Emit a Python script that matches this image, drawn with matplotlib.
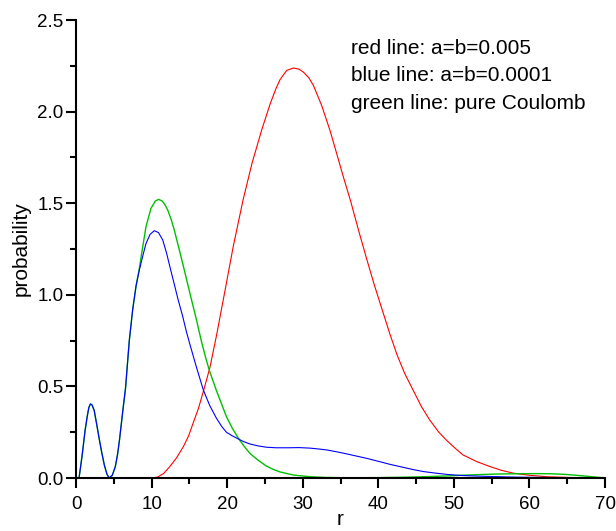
import numpy as np
import matplotlib.pyplot as plt
from matplotlib.ticker import MultipleLocator, FormatStrFormatter

plt.rcParams['font.family'] = ['Liberation Sans', 'DejaVu Sans']

# red line: a=b=0.005
r_red = [0, 10, 10.8, 11.6, 12.4, 13.3, 14.2, 14.9, 15.5, 16.2, 16.9, 17.7, 18.6, 19.7,
         20.8, 22.1, 23.3, 24.57, 25.67, 26.4, 27.0, 27.88, 28.76, 29.5, 30.08, 30.8,
         31.4, 32.5, 33.6, 34.5, 35.4, 36.3, 37.4, 38.5, 39.5, 40.5, 41.5, 42.5, 43.5,
         44.6, 45.7, 46.8, 48.0, 49.0, 50.1, 51.2, 53.0, 54.8, 56.3, 57.9, 60.0, 62.3,
         66.0, 70.0]
p_red = [0, 0, 0.005, 0.025, 0.062, 0.11, 0.171, 0.23, 0.30, 0.38, 0.48, 0.60, 0.78, 1.02,
         1.263, 1.517, 1.72, 1.90, 2.04, 2.12, 2.175, 2.225, 2.238, 2.232, 2.216, 2.185,
         2.144, 2.034, 1.898, 1.77, 1.64, 1.517, 1.35, 1.19, 1.05, 0.92, 0.79, 0.67, 0.57,
         0.48, 0.39, 0.317, 0.25, 0.207, 0.165, 0.126, 0.09, 0.062, 0.042, 0.026, 0.015,
         0.007, 0.002, 0]

# blue line: a=b=0.0001
r_blue = [0.4, 0.8, 1.2, 1.5, 1.7, 1.9, 2.1, 2.4, 2.75, 3.1, 3.4, 3.75, 4.1, 4.4, 4.8, 5.2,
          5.5, 5.75, 6.2, 6.55, 7.05, 7.5, 7.95, 8.38, 8.82, 9.26, 9.8, 10.36, 10.9, 11.47,
          12.0, 12.35, 12.9, 13.5, 14.1, 14.6, 15.1, 15.9, 16.85, 17.7, 18.6, 19.3,
          19.9, 20.6, 21.3, 22.1, 23.0, 24.0, 25.2, 26.5, 28.0, 29.5, 31.0, 32.2, 33.2,
          34.5, 36.0, 37.3, 38.5, 40.2, 41.5, 42.9, 44.6, 46.0, 47.5, 49.0, 50.5, 52.0,
          55.0, 58.0, 62.0, 66.0, 70.0]
p_blue = [0, 0.12, 0.26, 0.34, 0.385, 0.404, 0.40, 0.37, 0.29, 0.207, 0.14, 0.07, 0.02, 0.0,
          0.015, 0.062, 0.13, 0.207, 0.37, 0.49, 0.75, 0.92, 1.05, 1.135, 1.21, 1.28, 1.33,
          1.35, 1.34, 1.30, 1.225, 1.165, 1.075, 0.975, 0.885, 0.80, 0.725, 0.61,
          0.48, 0.395, 0.325, 0.28, 0.25, 0.232, 0.217, 0.20, 0.186, 0.176, 0.168, 0.165,
          0.165, 0.166, 0.163, 0.158, 0.153, 0.143, 0.13, 0.118, 0.107, 0.089, 0.075, 0.062,
          0.046, 0.035, 0.027, 0.02, 0.015, 0.012, 0.008, 0.005, 0.003, 0.001, 0]

# green line: pure Coulomb
r_green = [0.4, 0.8, 1.2, 1.5, 1.7, 1.9, 2.1, 2.4, 2.75, 3.1, 3.4, 3.75, 4.1, 4.4, 4.8, 5.2,
           5.5, 5.75, 6.2, 6.55, 7.05, 7.5, 7.95, 8.38, 8.82, 9.26, 9.92, 10.5, 10.94,
           11.4, 11.8, 12.13, 12.6, 13.0, 13.67, 14.33, 14.65, 15.3, 15.9, 16.6, 17.2, 17.7,
           18.6, 19.3, 19.9, 20.7, 21.6, 22.3, 23.0, 24.0, 25.2, 26.1, 27.0, 28.8, 31.0,
           33.0, 36.0, 40.0, 43.0, 46.0, 49.0, 51.0, 53.5, 56.0, 58.0, 61.0, 63.0, 65.0,
           67.0, 68.5, 70.0]
p_green = [0, 0.12, 0.26, 0.34, 0.385, 0.404, 0.40, 0.37, 0.29, 0.207, 0.14, 0.07, 0.02, 0.0,
           0.015, 0.062, 0.13, 0.207, 0.37, 0.49, 0.75, 0.92, 1.05, 1.145, 1.26, 1.372,
           1.472, 1.512, 1.521, 1.512, 1.49, 1.463, 1.41, 1.354, 1.245, 1.135, 1.08, 0.97,
           0.87, 0.745, 0.65, 0.58, 0.475, 0.40, 0.335, 0.27, 0.21, 0.17, 0.135, 0.10, 0.065,
           0.047, 0.033, 0.016, 0.007, 0.003, 0.001, 0.002, 0.004, 0.007, 0.011, 0.015,
           0.019, 0.022, 0.023, 0.024, 0.023, 0.019, 0.012, 0.006, 0]

labels = ['red line: a=b=0.005', 'blue line: a=b=0.0001', 'green line: pure Coulomb']

fig = plt.figure(figsize=(6.16, 5.31), dpi=100)
ax = fig.add_axes([0.1234, 0.0998, 0.8588, 0.8625])

ax.plot(r_red, p_red, color='#ff0000', lw=0.8)
ax.plot(r_green, p_green, color='#00c000', lw=1.0)
ax.plot(r_blue, p_blue, color='#0000ff', lw=0.8)

ax.set_xlim(0, 70)
ax.set_ylim(0, 2.5)
ax.xaxis.set_major_locator(MultipleLocator(10))
ax.xaxis.set_minor_locator(MultipleLocator(5))
ax.yaxis.set_major_locator(MultipleLocator(0.5))
ax.yaxis.set_minor_locator(MultipleLocator(0.25))
ax.yaxis.set_major_formatter(FormatStrFormatter('%.1f'))

for s in ['top', 'right']:
    ax.spines[s].set_visible(False)
for s in ['left', 'bottom']:
    ax.spines[s].set_linewidth(1.5)
ax.tick_params(which='major', direction='out', length=7, width=1.5, labelsize=13.5)
ax.tick_params(which='minor', direction='out', length=4, width=1.5)
ax.tick_params(axis='x', which='major', pad=6)
ax.tick_params(axis='y', which='major', pad=2)

ax.set_xlabel('r', fontsize=15, labelpad=-2)
ax.set_ylabel('probability', fontsize=15, labelpad=5)

for i, t in enumerate(labels):
    ax.text(0.5198, 0.9389 - i * 0.0611, t, transform=ax.transAxes,
            ha='left', va='center', fontsize=15)

fig.savefig('out.png', dpi=100)
